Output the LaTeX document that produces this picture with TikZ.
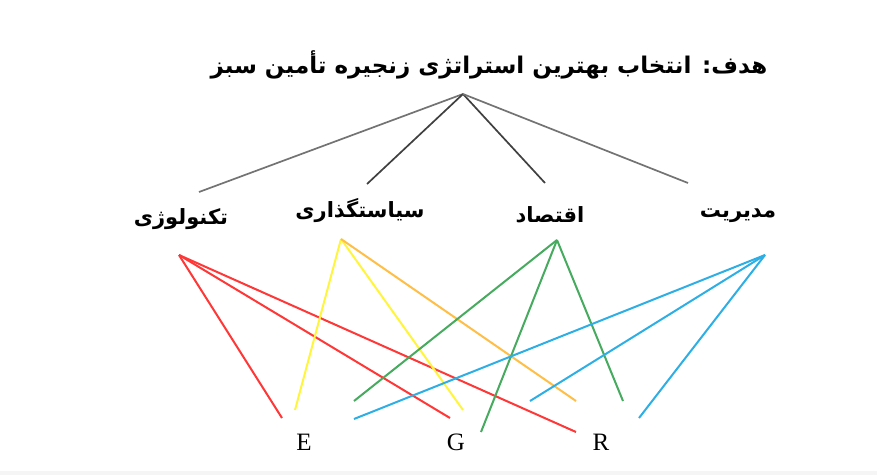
\documentclass[tikz,border=0pt]{standalone}
\usepackage{fontspec}
\setmainfont{Liberation Serif}
\newfontfamily\fafont[Script=Arabic]{DejaVu Sans}
\TeXXeTstate=1
\begin{document}
\begin{tikzpicture}[x=1pt,y=-1pt,
  fatext/.style={font=\fafont\bfseries\fontsize{21}{24}\selectfont, inner sep=0pt},
  goaltext/.style={font=\fafont\bfseries\fontsize{23}{26}\selectfont, inner sep=0pt},
  alt/.style={font=\fontsize{25}{27}\selectfont, inner sep=0pt},
  tree/.style={line width=1.7pt},
  link/.style={line width=2pt},
  treeA/.style={tree, draw=black!55},
  treeB/.style={tree, draw=black!75},
  tech/.style={link, draw={rgb,255:red,255;green,55;blue,55}},
  pol/.style={link, draw={rgb,255:red,255;green,245;blue,60}},
  polo/.style={link, draw={rgb,255:red,255;green,190;blue,70}},
  eco/.style={link, draw={rgb,255:red,70;green,170;blue,95}},
  man/.style={link, draw={rgb,255:red,45;green,175;blue,230}}]
\useasboundingbox (0,0) rectangle (877,475);
\fill[black!4] (0,471) rectangle (877,475);

% goal
\node[goaltext] (goal) at (489,65) {\beginR هدف: انتخاب بهترین استراتژی زنجیره تأمین سبز\endR};
\coordinate (top) at (463,94);

% criteria
\node[fatext] (tec) at (181,219) {\beginR تکنولوژی\endR};
\node[fatext] (pol) at (360,211) {\beginR سیاستگذاری\endR};
\node[fatext] (eco) at (550,215) {\beginR اقتصاد\endR};
\node[fatext] (man) at (738,216) {\beginR مدیریت\endR};

\coordinate (tecT) at (199,192);
\coordinate (polT) at (367,184);
\coordinate (ecoT) at (545,183);
\coordinate (manT) at (688,183);

\draw[treeA] (top) -- (tecT);
\draw[treeB] (top) -- (polT);
\draw[treeB] (top) -- (ecoT);
\draw[treeA] (top) -- (manT);

% alternatives
\node[alt] (E) at (304,442) {E};
\node[alt] (G) at (456,442) {G};
\node[alt] (R) at (601,442) {R};

% fan-out points under each criterion
\coordinate (tecB) at (179,255);
\coordinate (polB) at (341,239);
\coordinate (ecoB) at (557,240);
\coordinate (manB) at (765,255);

% line ends above the alternatives
\coordinate (tE) at (282,418);
\coordinate (tG) at (450,418);
\coordinate (tR) at (576,432);
\coordinate (pE) at (295,410);
\coordinate (pG) at (463,410);
\coordinate (pR) at (576,401);
\coordinate (eE) at (354,401);
\coordinate (eG) at (481,432);
\coordinate (eR) at (623,401);
\coordinate (mE) at (354,419);
\coordinate (mG) at (530,401);
\coordinate (mR) at (639,418);

\draw[tech] (tecB) -- (tE);
\draw[tech] (tecB) -- (tG);
\draw[tech] (tecB) -- (tR);
\draw[pol] (polB) -- (pE);
\draw[pol] (polB) -- (pG);
\draw[polo] (polB) -- (pR);
\draw[eco] (ecoB) -- (eE);
\draw[eco] (ecoB) -- (eG);
\draw[eco] (ecoB) -- (eR);
\draw[man] (manB) -- (mE);
\draw[man] (manB) -- (mG);
\draw[man] (manB) -- (mR);
\end{tikzpicture}
\end{document}
